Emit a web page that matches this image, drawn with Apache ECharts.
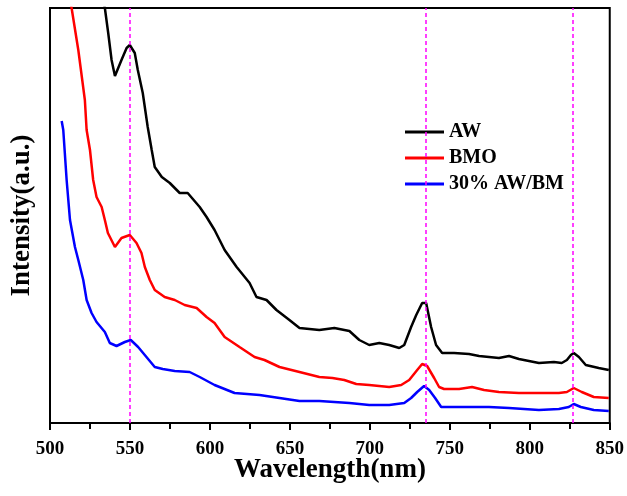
<!DOCTYPE html>
<html>
<head>
<meta charset="utf-8">
<script src="https://cdn.jsdelivr.net/npm/echarts@6/dist/echarts.min.js"></script>
<style>
html, body { margin: 0; padding: 0; background: #fff; }
#main { width: 627px; height: 496px; }
</style>
</head>
<body>
<div id="main"></div>
<script>
var chartDom = document.getElementById('main');
var myChart = echarts.init(chartDom, null);

// wavelength (nm) and intensity (a.u., arbitrary scale 0..415)
var awX = [531, 534.3, 536.4, 538.5, 540.6, 544.7, 547.9, 549.9, 553.0, 554.9, 558.0, 561.1, 563.6, 565.5, 569.9, 574.9, 581.1, 586.1, 593.6, 597.9, 602.9, 609.2, 616.7, 624.8, 629.1, 635.4, 641.6, 649.7, 656.0, 668.4, 677.8, 687.2, 693.4, 699.6, 705.9, 712.1, 718.4, 721.5, 725.8, 729.0, 732.7, 735.2, 738.3, 741.4, 745.2, 752.7, 762.0, 768.3, 780.7, 787.0, 793.2, 805.7, 815.1, 820.0, 823.2, 825.7, 827.5, 830.7, 835.0, 843.1, 849.4];
var awY = [440, 415, 390, 363, 347, 363, 375, 378, 370, 353, 330, 296, 273, 256, 246, 240, 230, 230, 216, 206, 193, 173, 156, 140, 126, 123, 113, 103, 95, 93, 95, 92, 83, 78, 80, 78, 75, 78, 96, 108, 120, 120, 96, 78, 70, 70, 69, 67, 65, 67, 64, 60, 61, 60, 63, 68, 70, 66, 58, 55, 53];

var bmoX = [511.8, 513.5, 517.7, 521.8, 522.9, 525.0, 527.0, 529.1, 532.3, 534.3, 536.2, 540.6, 544.7, 549.9, 554.1, 557.2, 559.3, 562.4, 565.5, 571.7, 578.0, 584.2, 591.7, 597.9, 602.9, 609.2, 618.5, 627.9, 634.1, 643.5, 656.0, 668.4, 676.6, 684.0, 691.5, 699.6, 712.1, 719.6, 724.6, 729.6, 732.7, 735.8, 740.2, 743.3, 746.4, 755.8, 763.9, 771.4, 780.7, 793.2, 805.7, 818.2, 823.2, 827.5, 832.5, 840.0, 849.4];
var bmoY = [433, 415, 373, 323, 293, 273, 243, 226, 216, 203, 190, 176, 185, 188, 180, 170, 156, 143, 133, 126, 123, 118, 115, 106, 100, 86, 76, 66, 63, 56, 51, 46, 45, 43, 39, 38, 36, 38, 43, 53, 59, 57, 45, 36, 34, 34, 36, 33, 31, 30, 30, 30, 31, 35, 31, 26, 25];

var mixX = [507.3, 508.3, 510.4, 512.5, 515.6, 517.7, 520.8, 522.9, 526.0, 529.1, 534.3, 537.4, 541.6, 546.8, 550.5, 555.1, 560.3, 565.5, 570.5, 578.0, 587.3, 593.6, 602.9, 615.4, 631.0, 643.5, 656.0, 668.4, 687.2, 699.6, 712.1, 721.5, 725.8, 729.6, 733.9, 737.1, 740.8, 744.6, 762.0, 774.5, 787.0, 805.7, 818.2, 824.4, 827.5, 831.9, 840.0, 849.4];
var mixY = [302, 293, 243, 203, 176, 163, 143, 123, 110, 101, 91, 80, 77, 81, 83, 76, 66, 56, 54, 52, 51, 46, 38, 30, 28, 25, 22, 22, 20, 18, 18, 20, 25, 31, 37, 33, 25, 16, 16, 16, 15, 13, 14, 16, 19, 16, 13, 12];

var seriesNames = ['AW', 'BMO', '30% AW/BM'];
var peakLines = [550, 735, 827];
var xTicks = [500, 550, 600, 650, 700, 750, 800, 850];

function pairs(xs, ys) {
    return xs.map(function (x, i) { return [x, ys[i]]; });
}

var font = 'Liberation Serif, Times New Roman, serif';

var option = {
    animation: false,
    backgroundColor: '#ffffff',
    textStyle: { fontFamily: font },
    grid: {
        left: 50, top: 8, right: 16, bottom: 73,
        show: true, borderColor: '#000', borderWidth: 2
    },
    legend: {
        data: seriesNames,
        orient: 'vertical',
        left: 400, top: 117,
        itemWidth: 39, itemHeight: 3, itemGap: 6,
        icon: 'rect',
        textStyle: { fontFamily: font, fontWeight: 'bold', fontSize: 20, color: '#000' }
    },
    xAxis: {
        type: 'value',
        min: xTicks[0], max: xTicks[xTicks.length - 1], interval: 50,
        name: 'Wavelength(nm)',
        nameLocation: 'middle', nameGap: 34, nameMoveOverlap: false,
        nameTextStyle: { fontFamily: font, fontWeight: 'bold', fontSize: 27, color: '#000' },
        axisLine: { lineStyle: { color: '#000', width: 2 } },
        axisTick: { show: true, inside: false, length: 7, lineStyle: { width: 2, color: '#000' } },
        minorTick: { show: true, splitNumber: 2, length: 6, lineStyle: { width: 2, color: '#000' } },
        axisLabel: { fontFamily: font, fontWeight: 'bold', fontSize: 19, color: '#000', margin: 17 },
        splitLine: { show: false }
    },
    yAxis: {
        type: 'value',
        min: 0, max: 415,
        name: 'Intensity(a.u.)',
        nameLocation: 'middle', nameGap: 14, nameRotate: 90,
        nameTextStyle: { fontFamily: font, fontWeight: 'bold', fontSize: 27, color: '#000' },
        axisLine: { show: true, lineStyle: { color: '#000', width: 2 } },
        axisTick: { show: false },
        axisLabel: { show: false },
        splitLine: { show: false }
    },
    series: [
        {
            name: seriesNames[0], type: 'line', data: pairs(awX, awY),
            showSymbol: false, color: '#000000', lineStyle: { width: 2.5 }, clip: true,
            markLine: {
                silent: true, symbol: 'none',
                label: { show: false },
                lineStyle: { color: '#ff00ff', type: [4, 3], width: 1.5 },
                data: peakLines.map(function (v) { return { xAxis: v }; })
            }
        },
        {
            name: seriesNames[1], type: 'line', data: pairs(bmoX, bmoY),
            showSymbol: false, color: '#ff0000', lineStyle: { width: 2.5 }, clip: true
        },
        {
            name: seriesNames[2], type: 'line', data: pairs(mixX, mixY),
            showSymbol: false, color: '#0000ff', lineStyle: { width: 2.5 }, clip: true
        }
    ]
};

myChart.setOption(option);
</script>
</body>
</html>
